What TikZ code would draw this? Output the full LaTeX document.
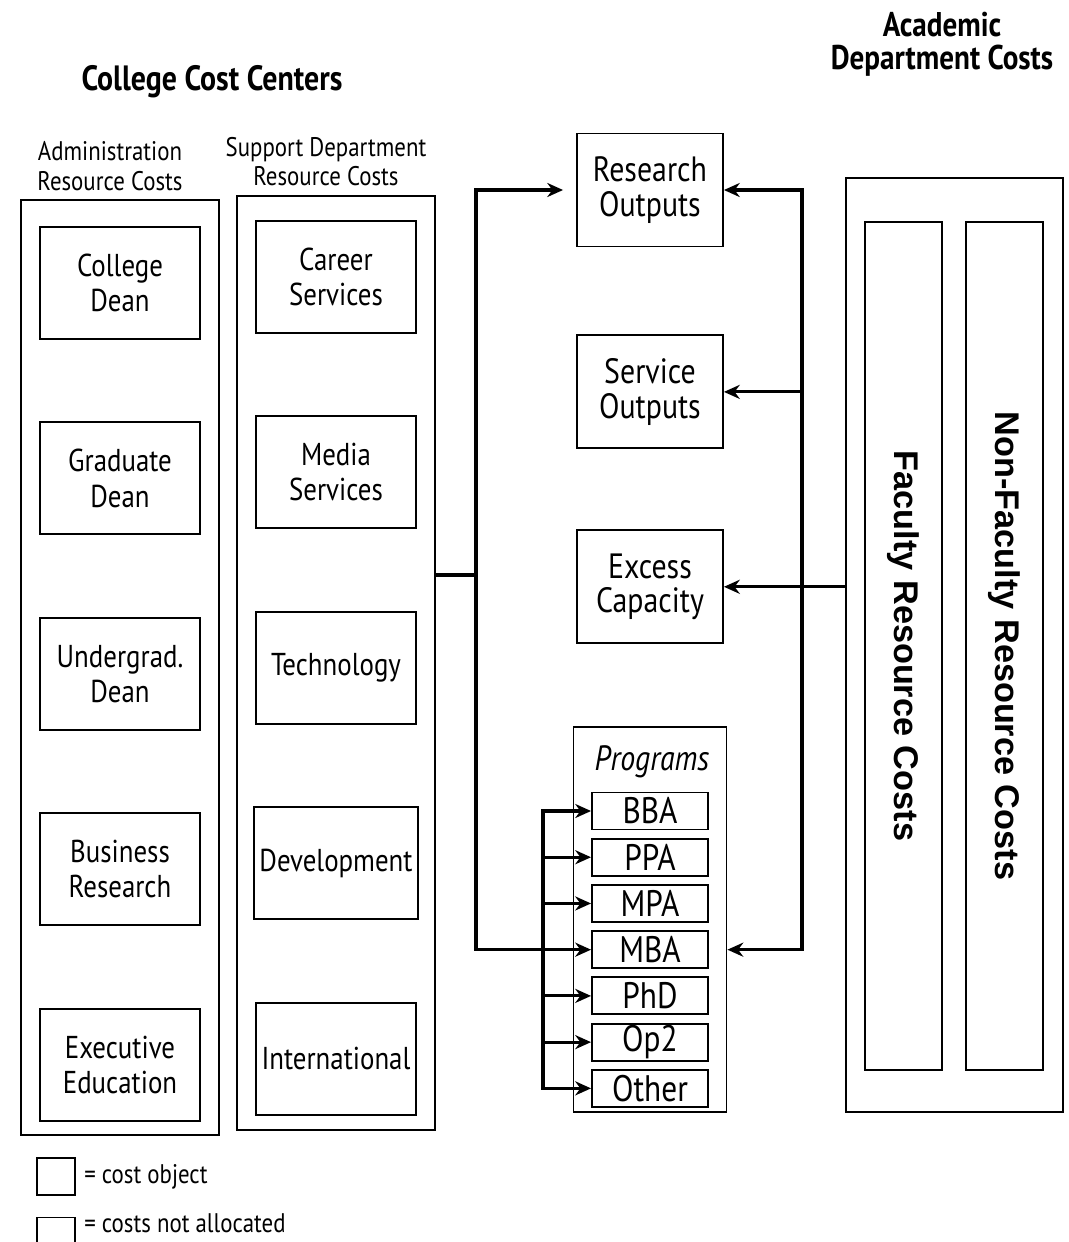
\documentclass[tikz,border=0pt]{standalone}
\usepackage{fontspec}
\setmainfont{PT Sans}[FakeStretch=0.85]
\newfontfamily\barfont{Liberation Sans}
\usetikzlibrary{arrows.meta, positioning}
\tikzset{
    costbox/.style={
        rectangle,
        minimum width=3.2cm,
        minimum height=2.24cm,
        align=center,
        draw=black,
        line width=1.1pt,
        font=\fontsize{18}{20}\selectfont
    },
    outputbox/.style={
        rectangle,
        minimum width=2.92cm,
        minimum height=2.26cm,
        align=center,
        draw=black,
        line width=1.1pt,
        font=\fontsize{20}{19.5}\selectfont
    },
    progbox/.style={
        rectangle,
        minimum width=2.32cm,
        minimum height=0.74cm,
        inner sep=0pt,
        draw=black,
        line width=1.1pt,
        font=\fontsize{21}{21}\selectfont
    },
    columnbox/.style={
        rectangle,
        minimum width=3.96cm,
        minimum height=18.7cm,
        draw=black,
        line width=1.1pt
    },
    barbox/.style={
        rectangle,
        rotate=-90,
        minimum width=16.96cm,
        minimum height=1.54cm,
        draw=black,
        line width=1.1pt,
        font=\barfont\bfseries\fontsize{19.5}{19.5}\selectfont
    },
    legendbox/.style={
        rectangle,
        minimum width=0.76cm,
        minimum height=0.74cm,
        draw=black,
        line width=1.1pt
    },
    header/.style={
        align=center,
        inner sep=0pt,
        font=\fontsize{15.3}{17}\selectfont
    },
    titletext/.style={
        align=center,
        inner sep=0pt,
        font=\bfseries\fontsize{20}{18}\selectfont
    },
    line/.style={
        line width=1.8pt,
        line cap=rect
    },
    arrow/.style={
        line width=1.8pt,
        -{Stealth[length=9pt,width=8pt]}
    }
}

\begin{document}
\begin{tikzpicture}[x=0.02cm, y=-0.02cm, node distance=1.63cm]
\useasboundingbox (0,0) rectangle (1069,1242);

% Titles
\node (colltitle) [titletext] at (212,82) {College Cost Centers};
\node (acadtitle) [titletext, font=\bfseries\fontsize{19.5}{18.5}\selectfont] at (942,44) {Academic\\Department Costs};

% Cost center columns
\node (admincol) [columnbox] at (120,667.5) {};
\node (suppcol) [columnbox] at (336,663) {};
\node (adminhead) [header, above=0.16cm of admincol, xshift=-0.2cm] {Administration\\Resource Costs};
\node (supphead) [header, above=0.16cm of suppcol, xshift=-0.2cm] {Support Department\\Resource Costs};

% Administration
\node (collegedean) [costbox] at (120,283) {College\\Dean};
\node (graddean) [costbox, below=of collegedean] {Graduate\\Dean};
\node (ugdean) [costbox, below=of graddean] {Undergrad.\\Dean};
\node (busresearch) [costbox, below=of ugdean] {Business\\Research};
\node (execedu) [costbox, below=of busresearch] {Executive\\Education};

% Support departments
\node (career) [costbox] at (336,277) {Career\\Services};
\node (media) [costbox, below=of career] {Media\\Services};
\node (technology) [costbox, below=of media] {Technology};
\node (development) [costbox, below=of technology] {Development};
\node (international) [costbox, below=of development] {International};

% Outputs
\node (research) [outputbox] at (650,190) {Research\\Outputs};
\node (service) [outputbox, below=1.74cm of research] {Service\\Outputs};
\node (excess) [outputbox, below=1.6cm of service] {Excess\\Capacity};

% Programs
\node (programs) [rectangle, draw=black, line width=1.1pt, minimum width=3.06cm, minimum height=7.7cm] at (650,919.5) {};
\node (proglabel) [font=\itshape\fontsize{20}{20}\selectfont] at (652,762) {Programs};
\node (bba) [progbox] at (650,811) {BBA};
\node (ppa) [progbox, below=0.146cm of bba] {PPA};
\node (mpa) [progbox, below=0.146cm of ppa] {MPA};
\node (mba) [progbox, below=0.146cm of mpa] {MBA};
\node (phd) [progbox, below=0.146cm of mba] {PhD};
\node (optwo) [progbox, below=0.146cm of phd] {Op2};
\node (other) [progbox, below=0.146cm of optwo] {Other};

% Academic department
\node (acadbox) [rectangle, draw=black, line width=1.1pt, minimum width=4.34cm, minimum height=18.68cm] at (954.5,645) {};
\node (faculty) [barbox] at (903.5,646) {Faculty Resource Costs};
\node (nonfaculty) [barbox] at (1004.5,646) {Non-Faculty Resource Costs};

% Arrows from support departments
\coordinate (bus) at (476,575);
\draw[line] (suppcol.east |- bus) -- (bus);
\draw[arrow, shorten >=0.26cm] (bus) |- (research);
\draw[arrow] (bus) |- (mba);

% Arrows into programs
\coordinate (pbus) at (543,0);
\draw[line] (pbus |- bba) -- (pbus |- other);
\draw[arrow] (pbus |- bba) -- (bba);
\draw[arrow] (pbus |- ppa) -- (ppa);
\draw[arrow] (pbus |- mpa) -- (mpa);
\draw[arrow] (pbus |- phd) -- (phd);
\draw[arrow] (pbus |- optwo) -- (optwo);
\draw[arrow] (pbus |- other) -- (other);

% Arrows from academic department
\coordinate (rbus) at (802,0);
\draw[line] (rbus |- research) -- (rbus |- mba);
\draw[arrow] (rbus |- research) -- (research);
\draw[arrow] (rbus |- service) -- (service);
\draw[arrow] (acadbox.west |- excess) -- (excess);
\draw[arrow] (rbus |- mba) -- (programs.east |- mba);

% Legend
\node (legobj) [legendbox] at (56,1176.5) {};
\node (legobjtext) [header, right=0.16cm of legobj] {= cost object};
\node (legnot) [legendbox] at (56,1236) {};
\node (legnottext) [header, right=0.16cm of legnot, yshift=0.26cm] {= costs not allocated};

\end{tikzpicture}
\end{document}
